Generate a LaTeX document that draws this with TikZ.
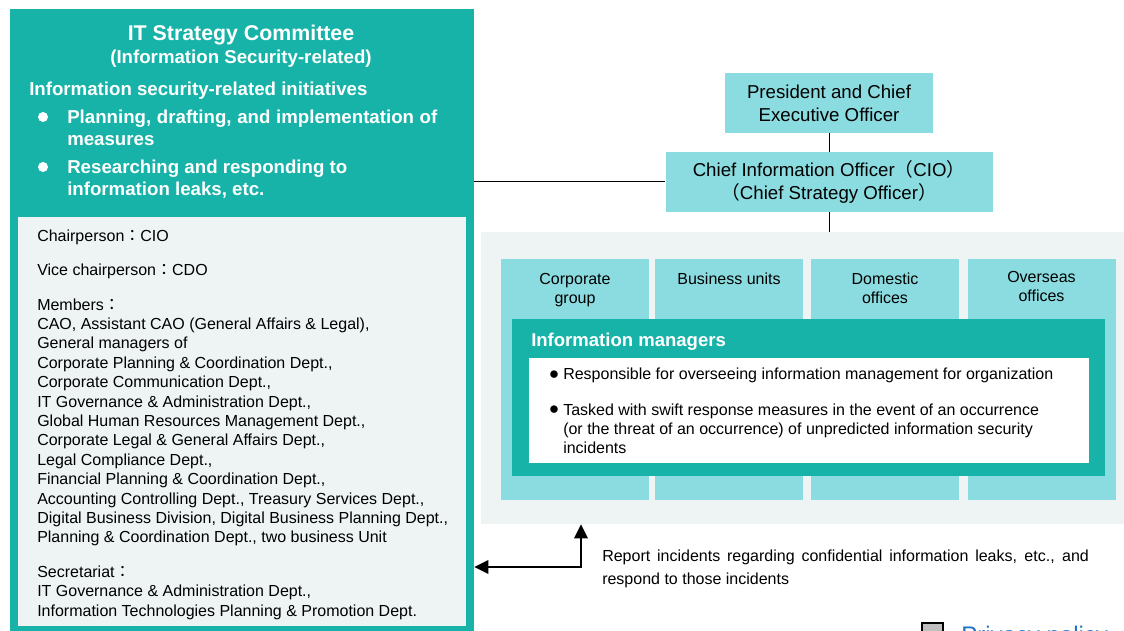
\documentclass[tikz,border=0pt]{standalone}
\usepackage{fontspec}
\setmainfont{Liberation Sans}
\newfontfamily\cjk{Noto Sans CJK JP}
\usepackage{tikz}
\usetikzlibrary{arrows.meta,positioning,calc}
\definecolor{ITteal}{HTML}{17B3A8}
\definecolor{ITpale}{HTML}{EEF4F4}
\definecolor{ITcyan}{HTML}{8ADCE0}
\definecolor{ITlink}{HTML}{1A73C8}
\tikzset{
  org/teal/.style={fill=ITteal, inner sep=0pt},
  org/panel/.style={fill=ITpale, inner sep=0pt},
  org/exec/.style={fill=ITcyan, inner sep=0pt, align=center, font=\fontsize{14}{17.25}\selectfont},
  org/column/.style={fill=ITcyan, inner sep=0pt, minimum width=111pt, minimum height=180.75pt},
  org/coltext/.style={anchor=north, inner sep=0pt, align=center, font=\fontsize{12}{14.25}\selectfont},
  org/dot/.style={circle, fill=white, inner sep=0pt, minimum size=7.5pt},
  org/initem/.style={anchor=north west, inner sep=0pt, align=left, text=white, font=\bfseries\fontsize{14}{16.5}\selectfont},
  org/memtext/.style={anchor=north west, inner sep=0pt, align=left, font=\fontsize{12}{14.55}\selectfont},
  org/duty/.style={anchor=north west, inner sep=0pt, align=left, font=\fontsize{12}{14.25}\selectfont},
  org/bulletglyph/.style={inner sep=0pt, font=\fontsize{13}{14.25}\selectfont},
  org/line/.style={line width=0.75pt},
  org/report/.style={line width=1.6pt, >={Triangle[length=10.5pt,width=10pt]}, <->},
  org/reporttext/.style={anchor=north west, inner sep=0pt, align=left, font=\fontsize{12}{17.25}\selectfont}
}

\begin{document}
\begin{tikzpicture}[x=0.75pt, y=-0.75pt]
  \useasboundingbox (0,0) rectangle (1124,631);

  % committee block on the left
  \node[org/teal, minimum width=348pt, minimum height=473.25pt] (committee) at (242,324.5) {};
  \node[org/panel, minimum width=336pt, minimum height=306.75pt] (members) at (242,421.5) {};
  \node[text=white, font=\bfseries\fontsize{16}{18}\selectfont] (cmtitle) at (241,35) {IT Strategy Committee};
  \node[text=white, font=\bfseries\fontsize{14}{16}\selectfont] (cmsub) at (241,59) {(Information Security-related)};
  \node[anchor=west, inner sep=0pt, text=white, font=\bfseries\fontsize{14}{16}\selectfont] (cminit) at (29,91) {Information security-related initiatives};
  \node[org/dot] (dot1) at (43,117) {};
  \node[org/dot] (dot2) at (43,167) {};
  \node[org/initem] (init1) at (67,110) {\makebox[277.5pt][s]{Planning, drafting, and implementation of}\\measures};
  \node[org/initem] (init2) at (67,160) {Researching and responding to\\information leaks, etc.};
  \node[org/memtext] (memlist) at (37,229.5) {Chairperson{\cjk ：}CIO\\[11.25pt]
    Vice chairperson{\cjk ：}CDO\\[11.25pt]
    Members{\cjk ：}\\
    CAO, Assistant CAO (General Affairs \& Legal),\\
    General managers of\\
    Corporate Planning \& Coordination Dept.,\\
    Corporate Communication Dept.,\\
    IT Governance \& Administration Dept.,\\
    Global Human Resources Management Dept.,\\
    Corporate Legal \& General Affairs Dept.,\\
    Legal Compliance Dept.,\\
    Financial Planning \& Coordination Dept.,\\
    Accounting Controlling Dept., Treasury Services Dept.,\\
    Digital Business Division, Digital Business Planning Dept.,\\
    Planning \& Coordination Dept., two business Unit\\[11.25pt]
    Secretariat{\cjk ：}\\
    IT Governance \& Administration Dept.,\\
    Information Technologies Planning \& Promotion Dept.};

  % officers
  \node[org/exec, minimum width=156pt, minimum height=45pt] (ceo) at (829,103) {President and Chief\\Executive Officer};
  \node[org/exec, minimum width=245.25pt, minimum height=45pt] (cio) at (829,182) {Chief Information Officer{\cjk （}CIO{\cjk ）}\\{\cjk （}Chief Strategy Officer{\cjk ）}};

  % organisation panel
  \node[org/panel, minimum width=482.25pt, minimum height=219pt] (panel) at (802.5,378) {};
  \foreach \cx/\cname in {575/corp, 729/bu, 885/dom, 1041.5/ovs}
    \node[org/column] (\cname) at (\cx,379.5) {};
  \foreach \cx/\cy/\cname/\ctext in {575/273/corp/{Corporate\\group}, 729/273/bu/{Business units},
      885/273/dom/{Domestic\\offices}, 1041.5/271/ovs/{Overseas\\offices}}
    \node[org/coltext] (\cname text) at (\cx,\cy) {\ctext};

  \node[org/teal, minimum width=444.75pt, minimum height=117.75pt] (infomgr) at (808.5,397.5) {};
  \node[anchor=west, inner sep=0pt, text=white, font=\bfseries\fontsize{13.9}{16}\selectfont] (imtitle) at (531,342) {Information managers};
  \node[fill=white, inner sep=0pt, minimum width=420pt, minimum height=78.75pt] (imduties) at (809,410.5) {};
  \node[org/bulletglyph] (bul1) at (554,375) {●};
  \node[org/duty, anchor=west] (duty1) at (563,375) {Responsible for overseeing information management for organization};
  \node[org/bulletglyph] (bul2) at (554,410) {●};
  \node[org/duty] (duty2) at (563,404) {Tasked with swift response measures in the event of an occurrence\\(or the threat of an occurrence) of unpredicted information security\\incidents};

  % connectors
  \draw[org/line] (ceo) -- (cio);
  \draw[org/line] (cio.south) -- (cio.south |- panel.north);
  \draw[org/line] (committee.east |- cio.west) -- (cio.west);
  \coordinate (rptbend) at (581,567);
  \draw[org/report] (rptbend -| committee.east) -- (rptbend) -- (rptbend |- panel.south);
  \node[org/reporttext] (rpttext) at (602,550) {\makebox[365pt][s]{Report incidents regarding confidential information leaks, etc., and}\\respond to those incidents};

  % page footer
  \node[draw=black, line width=1.5pt, fill=black!25, minimum size=16pt, inner sep=0pt, anchor=north west] (privbox) at (921,622) {};
  \node[anchor=base west, inner sep=0pt, text=ITlink, font=\fontsize{18}{20}\selectfont] (privlink) at (961,643) {Privacy policy};
\end{tikzpicture}
\end{document}
